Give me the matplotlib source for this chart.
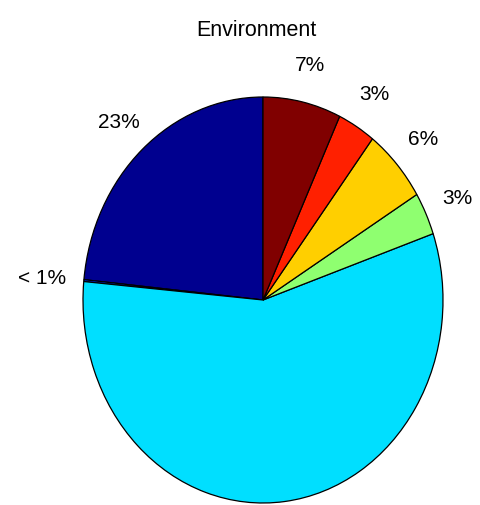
import numpy as np
import matplotlib
matplotlib.use("Agg")
import matplotlib.pyplot as plt

# Data (counter-clockwise from the top, MATLAB order)
labels = ['23%', '< 1%', '', '3%', '6%', '3%', '7%']
values = [23.4, 0.15, 56.75, 3.4, 5.9, 3.4, 7.0]
colors = [(0, 0, 0.5625), (0, 0.1875, 1), (0, 0.875, 1), (0.5625, 1, 0.4375),
          (1, 0.8125, 0), (1, 0.125, 0), (0.5, 0, 0)]
title = 'Environment'

W, H = 481, 505
fig = plt.figure(figsize=(W / 100, H / 100), dpi=100)
ax = fig.add_axes([0, 0, 1, 1])
ax.axis('off')

wedges, _ = ax.pie(values, colors=colors, startangle=90, counterclock=True,
                   wedgeprops=dict(edgecolor='black', linewidth=0.9),
                   radius=1.0)
ax.set_aspect('auto')
cx, cy, rx, ry = 263, 300, 180, 203
ax.set_xlim(-cx / rx, (W - cx) / rx)
ax.set_ylim(-(H - cy) / ry, cy / ry)

font = ['Liberation Sans', 'DejaVu Sans']
for w, lab in zip(wedges, labels):
    if not lab:
        continue
    mid = np.deg2rad((w.theta1 + w.theta2) / 2)
    r = 1.195 + (0.04 if len(lab) > 3 else 0)
    ax.text(r * np.cos(mid), r * np.sin(mid), lab, ha='center',
            va='center_baseline', fontsize=15, family=font)

fig.text(256 / W, 1 - 36 / H, title, ha='center', va='baseline',
         fontsize=15.5, family=font)

fig.savefig('out.png', dpi=100)
